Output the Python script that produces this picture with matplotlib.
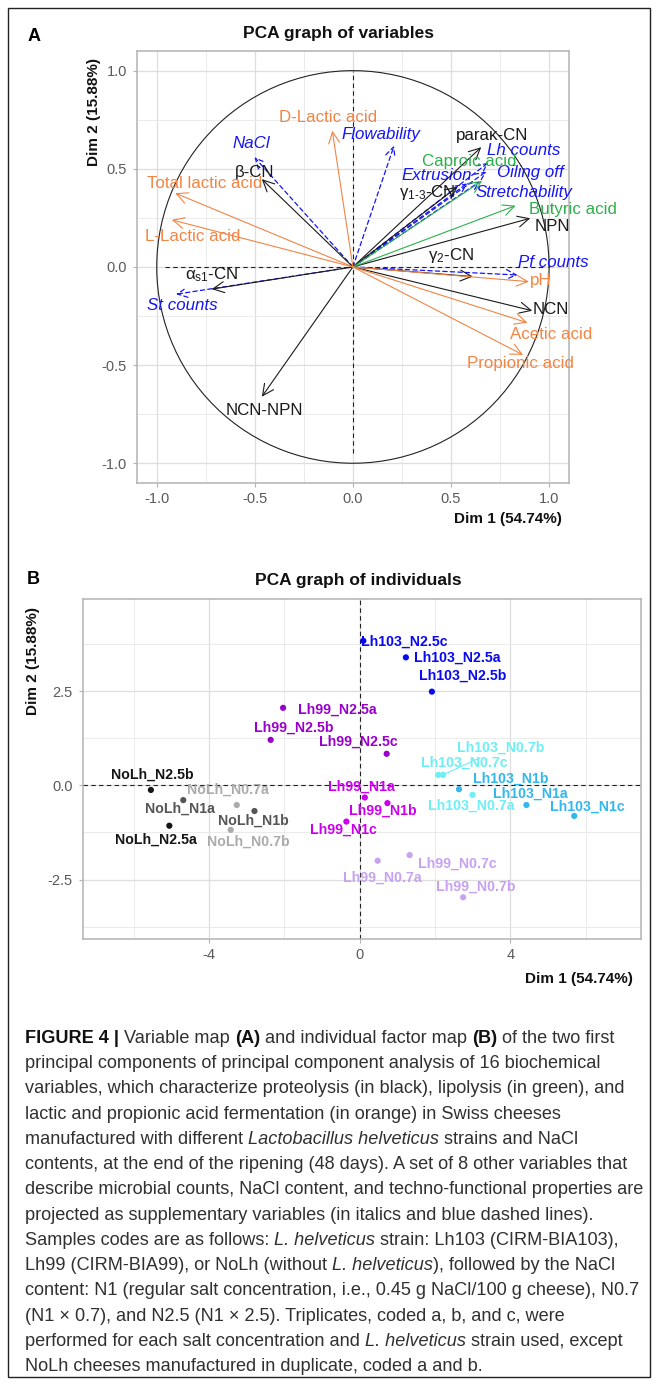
import numpy as np
import matplotlib.pyplot as plt
from matplotlib.patches import Rectangle

plt.rcParams['font.family'] = ['Liberation Sans', 'DejaVu Sans']
plt.rcParams['mathtext.fontset'] = 'custom'
plt.rcParams['mathtext.rm'] = 'Liberation Sans'
plt.rcParams['mathtext.it'] = 'Liberation Sans:italic'
plt.rcParams['mathtext.bf'] = 'Liberation Sans:bold'
plt.rcParams['axes.unicode_minus'] = False

W, H = 657, 1384

# --- panel A: active variables (coordinates on Dim 1 / Dim 2) ---
act_names = ['paraκ-CN', 'β-CN', 'γ$_{1\\text{-}3}$-CN', 'NPN', 'γ$_{2}$-CN', 'NCN',
             'α$_{\\mathrm{s1}}$-CN', 'NCN-NPN', 'Caproic acid', 'Butyric acid',
             'D-Lactic acid', 'Total lactic acid', 'L-Lactic acid', 'pH',
             'Acetic acid', 'Propionic acid']
act_dim1 = [0.654, -0.464, 0.534, 0.904, 0.611, 0.914, -0.720, -0.464, 0.658, 0.829,
            -0.105, -0.906, -0.923, 0.897, 0.889, 0.867]
act_dim2 = [0.610, 0.447, 0.409, 0.248, -0.049, -0.223, -0.113, -0.661, 0.438, 0.312,
            0.694, 0.376, 0.240, -0.075, -0.284, -0.448]
act_group = ['prot'] * 8 + ['lipo'] * 2 + ['ferm'] * 6

# supplementary variables
sup_names = ['NaCl', 'Flowability', 'Lh counts', 'Extrusion', 'Oiling off',
             'Stretchability', 'Pf counts', 'St counts']
sup_dim1 = [-0.502, 0.210, 0.690, 0.583, 0.680, 0.647, 0.840, -0.902]
sup_dim2 = [0.559, 0.618, 0.531, 0.426, 0.486, 0.435, -0.041, -0.139]

# --- panel B: individuals ---
ind_names = ['Lh103_N2.5c', 'Lh103_N2.5a', 'Lh103_N2.5b',
             'Lh99_N2.5a', 'Lh99_N2.5b', 'Lh99_N2.5c',
             'Lh103_N0.7b', 'Lh103_N0.7c', 'Lh103_N0.7a',
             'Lh103_N1a', 'Lh103_N1b', 'Lh103_N1c',
             'Lh99_N1a', 'Lh99_N1b', 'Lh99_N1c',
             'Lh99_N0.7a', 'Lh99_N0.7b', 'Lh99_N0.7c',
             'NoLh_N1a', 'NoLh_N1b', 'NoLh_N2.5a', 'NoLh_N2.5b',
             'NoLh_N0.7a', 'NoLh_N0.7b']
ind_dim1 = [0.10, 1.23, 1.92, -2.03, -2.36, 0.72, 2.22, 2.09, 3.00, 4.43, 2.64, 5.70,
            0.14, 0.74, -0.35, 0.48, 2.75, 1.33, -4.68, -2.79, -5.05, -5.54, -3.26, -3.42]
ind_dim2 = [3.84, 3.40, 2.49, 2.06, 1.21, 0.84, 0.28, 0.28, -0.25, -0.52, -0.10, -0.81,
            -0.32, -0.47, -0.96, -2.00, -2.97, -1.85, -0.39, -0.68, -1.07, -0.12, -0.52, -1.18]

# --- layout / style (pixels, colours) ---
group_col = {'prot': '#1a1a1a', 'lipo': '#2DB04B', 'ferm': '#F28444', 'sup': '#1515F5'}
act_lab_off = [(11, 12), (-7, 7), (-30, -6), (22, -8), (-22, 21), (19, 1), (0, 14), (3, -14),
               (-13, 19), (57, -4), (-4, 13), (29, 10), (21, -17), (12, 1), (24, -12), (-3, -9)]
sup_lab_off = [(-3, 14), (-13, 11), (35, 12), (-31, 8), (44, -1), (44, -11), (36, 12), (6, -11)]

ind_col = {'Lh103_N2.5': '#0A0AF0', 'Lh103_N1': '#33B8EE', 'Lh103_N0.7': '#6CEFF5',
           'Lh99_N2.5': '#9A00CC', 'Lh99_N1': '#CC00EE', 'Lh99_N0.7': '#C7A2F0',
           'NoLh_N2.5': '#151515', 'NoLh_N1': '#555555', 'NoLh_N0.7': '#ABABAB'}
ind_lab_off = [(41, -1), (51, 0), (31, 16), (54, -2), (23, 12), (-28, 12), (58, 27), (26, 12),
               (-1, -11), (4, 11), (52, 10), (13, 9), (-3, 11), (-5, -8), (-3, -8), (5, -17),
               (13, 11), (48, -9), (-3, -9), (-1, -10), (-13, -14), (1, 15), (-9, 15), (18, -12)]
ind_segment = {'Lh103_N0.7b', 'Lh103_N0.7c'}


def fx(px):
    return px / W


def fy(py):
    return 1 - py / H


def light_theme(ax, xmaj, xmin, ymaj, ymin, xfmt, yfmt):
    ax.set_xticks(xmaj)
    ax.set_xticks(xmin, minor=True)
    ax.set_yticks(ymaj)
    ax.set_yticks(ymin, minor=True)
    ax.set_xticklabels([xfmt % v for v in xmaj])
    ax.set_yticklabels([yfmt % v for v in ymaj])
    ax.grid(which='major', color='#DEDEDE', lw=0.9)
    ax.grid(which='minor', color='#E8E8E8', lw=0.6)
    ax.set_axisbelow(True)
    for s in ax.spines.values():
        s.set_color('#B3B3B3')
        s.set_linewidth(1.1)
    ax.tick_params(which='major', length=3, color='#B3B3B3', labelcolor='#5a5a5a',
                   labelsize=10.5, pad=4)
    ax.tick_params(which='minor', length=0)


fig = plt.figure(figsize=(W / 100, H / 100), dpi=100)

# ---------------- panel A ----------------
axA = fig.add_axes([fx(136.5), fy(482.7), (569.3 - 136.5) / W, (482.7 - 51) / H])
axA.set_xlim(-1.103, 1.103)
axA.set_ylim(-1.099, 1.10)
light_theme(axA, [-1, -0.5, 0, 0.5, 1], [-0.75, -0.25, 0.25, 0.75],
            [-1, -0.5, 0, 0.5, 1], [-0.75, -0.25, 0.25, 0.75], '%.1f', '%.1f')

th = np.linspace(0, 2 * np.pi, 120)
axA.plot(np.cos(th), np.sin(th), color='#222222', lw=0.8)
axA.plot([-0.96, 0.98], [0, 0], color='#222222', lw=0.8, ls=(0, (4, 3)))
axA.plot([0, 0], [-0.95, 1.0], color='#222222', lw=0.8, ls=(0, (4, 3)))

head = '->,head_length=0.45,head_width=0.22'
for name, x, y, off in zip(sup_names, sup_dim1, sup_dim2, sup_lab_off):
    c = group_col['sup']
    axA.annotate('', xy=(x, y), xytext=(0, 0),
                 arrowprops=dict(arrowstyle=head, color=c, lw=0.9, ls=(0, (3.5, 2.5)),
                                 shrinkA=0, shrinkB=0, mutation_scale=16))
    axA.annotate(name, xy=(x, y), xytext=off, textcoords='offset pixels',
                 ha='center', va='center', color=c, size=12.2, style='italic',
                 annotation_clip=False)

for name, x, y, g, off in zip(act_names, act_dim1, act_dim2, act_group, act_lab_off):
    c = group_col[g]
    axA.annotate('', xy=(x, y), xytext=(0, 0),
                 arrowprops=dict(arrowstyle=head, color=c, lw=0.8,
                                 shrinkA=0, shrinkB=0, mutation_scale=18))
    axA.annotate(name, xy=(x, y), xytext=off, textcoords='offset pixels',
                 ha='center', va='center', color=c, size=12.2, annotation_clip=False)

fig.text(fx(34.4), fy(36.7), 'A', size=13, weight='bold', ha='center', va='center')
fig.text(fx(338.6), fy(33.3), 'PCA graph of variables', size=12.5, weight='bold',
         ha='center', va='center', color='#111111')
fig.text(fx(562), fy(519), 'Dim 1 (54.74%)', size=11, weight='bold', ha='right',
         va='center', color='#111111')
fig.text(fx(94), fy(58), 'Dim 2 (15.88%)', size=11, weight='bold', rotation=90,
         ha='center', va='top', color='#111111')

# ---------------- panel B ----------------
axB = fig.add_axes([fx(82.7), fy(938.7), (641.3 - 82.7) / W, (938.7 - 599) / H])
axB.set_xlim(-7.35, 7.48)
axB.set_ylim(-4.07, 4.95)
light_theme(axB, [-4, 0, 4], [-6, -2, 2, 6], [-2.5, 0, 2.5], [-3.75, -1.25, 1.25, 3.75],
            '%d', '%.1f')
axB.axhline(0, color='#222222', lw=0.8, ls=(0, (4, 3)))
axB.axvline(0, color='#222222', lw=0.8, ls=(0, (4, 3)))

cols = [ind_col[n[:-1]] for n in ind_names]
axB.scatter(ind_dim1, ind_dim2, c=cols, s=20, zorder=3, linewidths=0)
for name, x, y, c, off in zip(ind_names, ind_dim1, ind_dim2, cols, ind_lab_off):
    ap = None
    if name in ind_segment:
        ap = dict(arrowstyle='-', color=c, lw=0.8, shrinkA=0, shrinkB=2)
    axB.annotate(name, xy=(x, y), xytext=off, textcoords='offset pixels',
                 ha='center', va='center', color=c, size=10.2, weight='bold',
                 arrowprops=ap, annotation_clip=False)

fig.text(fx(33.5), fy(580), 'B', size=13, weight='bold', ha='center', va='center')
fig.text(fx(358), fy(580.7), 'PCA graph of individuals', size=12.5, weight='bold',
         ha='center', va='center', color='#111111')
fig.text(fx(632.7), fy(979), 'Dim 1 (54.74%)', size=11, weight='bold', ha='right',
         va='center', color='#111111')
fig.text(fx(33.5), fy(606.7), 'Dim 2 (15.88%)', size=11, weight='bold', rotation=90,
         ha='center', va='top', color='#111111')

# ---------------- caption ----------------
caption = [
    [('FIGURE 4 | ', 'b'), ('Variable map ', 'r'), ('(A) ', 'b'),
     ('and individual factor map ', 'r'), ('(B) ', 'b'), ('of the two first', 'r')],
    [('principal components of principal component analysis of 16 biochemical', 'r')],
    [('variables, which characterize proteolysis (in black), lipolysis (in green), and', 'r')],
    [('lactic and propionic acid fermentation (in orange) in Swiss cheeses', 'r')],
    [('manufactured with different ', 'r'), ('Lactobacillus helveticus ', 'i'),
     ('strains and NaCl', 'r')],
    [('contents, at the end of the ripening (48 days). A set of 8 other variables that', 'r')],
    [('describe microbial counts, NaCl content, and techno-functional properties are', 'r')],
    [('projected as supplementary variables (in italics and blue dashed lines).', 'r')],
    [('Samples codes are as follows: ', 'r'), ('L. helveticus ', 'i'),
     ('strain: Lh103 (CIRM-BIA103),', 'r')],
    [('Lh99 (CIRM-BIA99), or NoLh (without ', 'r'), ('L. helveticus', 'i'),
     ('), followed by the NaCl', 'r')],
    [('content: N1 (regular salt concentration, i.e., 0.45 g NaCl/100 g cheese), N0.7', 'r')],
    [('(N1 × 0.7), and N2.5 (N1 × 2.5). Triplicates, coded a, b, and c, were', 'r')],
    [('performed for each salt concentration and ', 'r'), ('L. helveticus ', 'i'),
     ('strain used, except', 'r')],
    [('NoLh cheeses manufactured in duplicate, coded a and b.', 'r')],
]

cap_size = 13.05
props = {'r': dict(color='#303030'), 'b': dict(weight='bold', color='#111111'),
         'i': dict(style='italic', color='#303030')}
rend = fig.canvas.get_renderer()
space = {}
for k, p in props.items():
    t1 = fig.text(0, 0, 'x x', size=cap_size, **p)
    t2 = fig.text(0, 0, 'xx', size=cap_size, **p)
    space[k] = t1.get_window_extent(rend).width - t2.get_window_extent(rend).width
    t1.remove()
    t2.remove()

for i, segs in enumerate(caption):
    x = 25.0
    y = 1038.3 + i * 25.26
    for text, k in segs:
        if text.startswith(' '):
            x += space[k]
        t = fig.text(fx(x), fy(y), text.strip(), size=cap_size, ha='left', va='center',
                     **props[k])
        x += t.get_window_extent(rend).width
        if text.endswith(' '):
            x += space[k]

# frame around the whole figure
fig.patches.append(Rectangle((fx(8), fy(1377)), (650 - 8) / W, (1377 - 8) / H,
                             transform=fig.transFigure, fill=False, ec='#222222', lw=1))

fig.savefig('out.png', dpi=100)
